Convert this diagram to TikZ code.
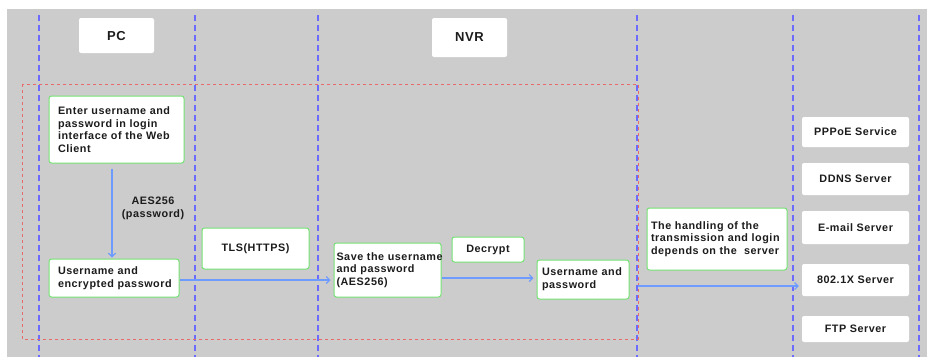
\documentclass[tikz,border=0pt]{standalone}
\usepackage{fontspec}
\setmainfont{Liberation Sans}[LetterSpace=5]
\usetikzlibrary{arrows.meta}
\definecolor{bgc}{HTML}{CCCCCC}
\definecolor{lanec}{HTML}{6B6BFF}
\definecolor{redc}{HTML}{E86A6A}
\definecolor{arrowc}{HTML}{6E9BFF}
\definecolor{grnc}{HTML}{74E274}
\definecolor{txtc}{HTML}{1C1C1C}
\newcommand{\oneline}[1]{\mbox{#1}}
\begin{document}
\begin{tikzpicture}[x=1pt,y=-1pt,
  lane/.style={draw=lanec, line width=1.2pt, dash pattern=on 6pt off 4pt},
  frame/.style={draw=redc, line width=0.8pt, dash pattern=on 3pt off 3pt},
  box/.style={draw=grnc, fill=white, line width=1pt, rounded corners=2.5pt,
    font=\fontsize{10.8}{12.7}\selectfont\bfseries, text=txtc, inner ysep=0pt},
  lbox/.style={box, align=left},
  wbox/.style={fill=white, rounded corners=2pt, inner sep=0pt,
    font=\fontsize{10.8}{12.7}\selectfont\bfseries, text=txtc, minimum width=107pt},
  head/.style={wbox, font=\fontsize{13}{15}\selectfont\bfseries, minimum width=75pt},
  arr/.style={draw=arrowc, line width=1.1pt, -{Straight Barb[length=3.5pt,width=7pt]}}]
\useasboundingbox (0,0) rectangle (927,357);
\fill[bgc] (7,9) rectangle (927,357);
\foreach \x in {39,195,318,637,793,919} \draw[lane] (\x,15) -- (\x,357);
\draw[frame] (22,84) rectangle (638,339);

\node[head, minimum height=35pt, text height=9pt, text depth=-6pt] (pc) at (116.5,35.5) {PC};
\node[head, minimum height=39pt] (nvr) at (469.5,37.5) {NVR};

\node[lbox, text width=117pt, inner xsep=9pt, minimum height=67pt] (b1) at (116.5,129.5)
  {\oneline{Enter username and}\\\oneline{password in login}\\\oneline{interface of the Web}\\\oneline{Client}};
\node[lbox, text width=112pt, inner xsep=9pt, minimum height=38pt] (b2) at (114,278)
  {\oneline{Username and}\\\oneline{encrypted password}};
\node[box, minimum width=107pt, minimum height=41pt] (tls) at (255.5,248.5) {TLS(HTTPS)};
\node[lbox, text width=102pt, inner xsep=2.5pt, minimum height=54pt] (b3) at (387.5,270)
  {\oneline{Save the username}\\\oneline{and password}\\\oneline{(AES256)}};
\node[box, minimum width=72pt, minimum height=25pt] (dec) at (488,249.5) {Decrypt};
\node[lbox, text width=82pt, inner xsep=5pt, minimum height=39pt] (b4) at (583,279.5)
  {\oneline{Username and}\\\oneline{password}};
\node[lbox, text width=132pt, inner xsep=4pt, minimum height=62pt] (hd) at (717,239)
  {\oneline{The handling of the}\\\oneline{transmission and login}\\\oneline{depends on the\ \ server}};

\node[wbox, minimum height=30pt] (s1) at (855.5,132) {PPPoE Service};
\node[wbox, minimum height=32pt] (s2) at (855.5,179) {DDNS Server};
\node[wbox, minimum height=33pt] (s3) at (855.5,227.5) {E-mail Server};
\node[wbox, minimum height=32pt] (s4) at (855.5,280) {802.1X Server};
\node[wbox, minimum height=26pt] (s5) at (855.5,329) {FTP Server};

\node[font=\fontsize{10.8}{12.7}\selectfont\bfseries, text=txtc, align=center, inner sep=0pt] (aes) at (153,208)
  {AES256\\(password)};

\draw[arr] ([xshift=-4.5pt,yshift=-5pt]b1.south) -- ([xshift=-2pt,yshift=1pt]b2.north);
\draw[arr, shorten >=3pt] ([yshift=-2pt]b2.east) -- ([yshift=-2pt]b2.east -| b3.west);
\draw[arr, shorten >=3pt] ([yshift=1.5pt]b4.west -| b3.east) -- ([yshift=1.5pt]b4.west);
\coordinate (src) at (638,286);
\draw[arr, shorten >=3pt] (src) -- (src -| s4.west);
\end{tikzpicture}
\end{document}
